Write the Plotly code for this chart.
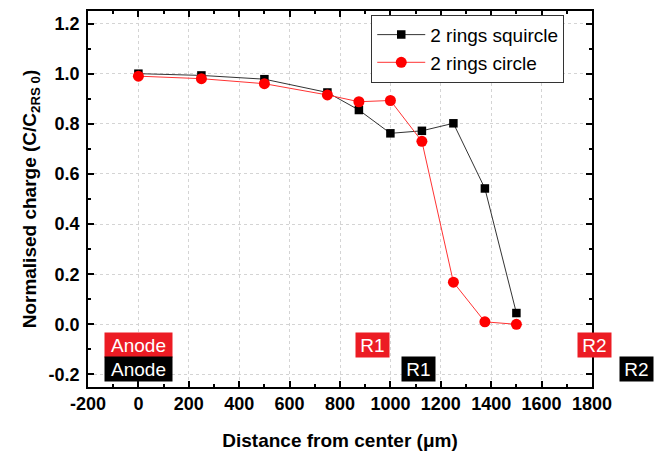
import plotly.graph_objects as go

x_pos = [0, 250, 500, 750, 875, 1000, 1125, 1250, 1375, 1500]
squircle = [1.0, 0.993, 0.978, 0.925, 0.855, 0.762, 0.772, 0.802, 0.542, 0.045]
circle = [0.99, 0.98, 0.96, 0.915, 0.888, 0.893, 0.73, 0.168, 0.01, 0.0]

x_ticks = [-200, 0, 200, 400, 600, 800, 1000, 1200, 1400, 1600, 1800]
x_ticktext = ["-200", "0", "200", "400", "600", "800", "1000", "1200", "1400", "1600", "1800"]
y_ticks = [-0.2, 0.0, 0.2, 0.4, 0.6, 0.8, 1.0, 1.2]
y_ticktext = ["-0.2", "0.0", "0.2", "0.4", "0.6", "0.8", "1.0", "1.2"]

labels = ["Anode", "Anode", "R1", "R1", "R2", "R2"]
label_x = [0, 0, 930, 1112, 1808, 1977]
label_y = [-0.083, -0.178, -0.083, -0.178, -0.083, -0.178]
label_col = ["#ec1c24", "#000000", "#ec1c24", "#000000", "#ec1c24", "#000000"]

X_RANGE = [-200, 1800]
Y_RANGE = [-0.25, 1.25]
FONT = "Liberation Sans, Arial"

fig = go.Figure()
fig.add_trace(go.Scatter(x=x_pos, y=squircle, mode="lines+markers", name="2 rings squircle",
                         line=dict(color="#333333", width=1),
                         marker=dict(symbol="square", size=8.5, color="black")))
fig.add_trace(go.Scatter(x=x_pos, y=circle, mode="lines+markers", name="2 rings circle",
                         line=dict(color="#ff3333", width=1),
                         marker=dict(symbol="circle", size=11, color="#ff0000")))

# Labels (some lie beyond the axis range, so place them in paper coords derived from data)
for t, xx, yy, c in zip(labels, label_x, label_y, label_col):
    px = (xx - X_RANGE[0]) / (X_RANGE[1] - X_RANGE[0])
    py = (yy - Y_RANGE[0]) / (Y_RANGE[1] - Y_RANGE[0])
    fig.add_annotation(x=px, y=py, text=t, showarrow=False, xref="paper", yref="paper",
                       xanchor="center", yanchor="middle",
                       bgcolor=c, font=dict(family=FONT, size=19, color="white"),
                       borderpad=2, height=20, width=(63 if t == "Anode" else 29))

axis_common = dict(showline=True, linecolor="black", linewidth=1.5, mirror="allticks",
                   ticks="inside", ticklen=6, tickwidth=1.5, tickcolor="black",
                   showgrid=True, gridcolor="#d4d4d4", griddash="dot", gridwidth=1,
                   zeroline=False, automargin=False,
                   tickfont=dict(family=FONT, size=18, color="black", weight="bold"))

fig.update_xaxes(range=X_RANGE, tickmode="array", tickvals=x_ticks, ticktext=x_ticktext,
                 ticklabelstandoff=0,
                 minor=dict(dtick=100, tick0=0, ticks="inside", ticklen=3, tickcolor="black", showgrid=False),
                 title=dict(text="Distance from center (\u03bcm)", standoff=20,
                            font=dict(family=FONT, size=19, color="black", weight="bold")),
                 **axis_common)
fig.update_yaxes(range=Y_RANGE, tickmode="array", tickvals=y_ticks, ticktext=y_ticktext,
                 ticklabelstandoff=3,
                 minor=dict(dtick=0.1, tick0=0, ticks="inside", ticklen=3, tickcolor="black", showgrid=False),
                 title=dict(text="Normalised charge (C/C<sub>2RS 0</sub>)", standoff=7,
                            font=dict(family=FONT, size=19, color="black", weight="bold")),
                 **axis_common)

fig.update_layout(width=662, height=453, margin=dict(l=88, r=70, t=11, b=66),
                  plot_bgcolor="white", paper_bgcolor="white",
                  legend=dict(x=0.562, y=0.99, xanchor="left", yanchor="top",
                              bordercolor="#333333", borderwidth=1, bgcolor="white",
                              font=dict(family=FONT, size=19, color="black"),
                              tracegroupgap=0, itemwidth=48),
                  showlegend=True)

fig.write_html("out.html")
